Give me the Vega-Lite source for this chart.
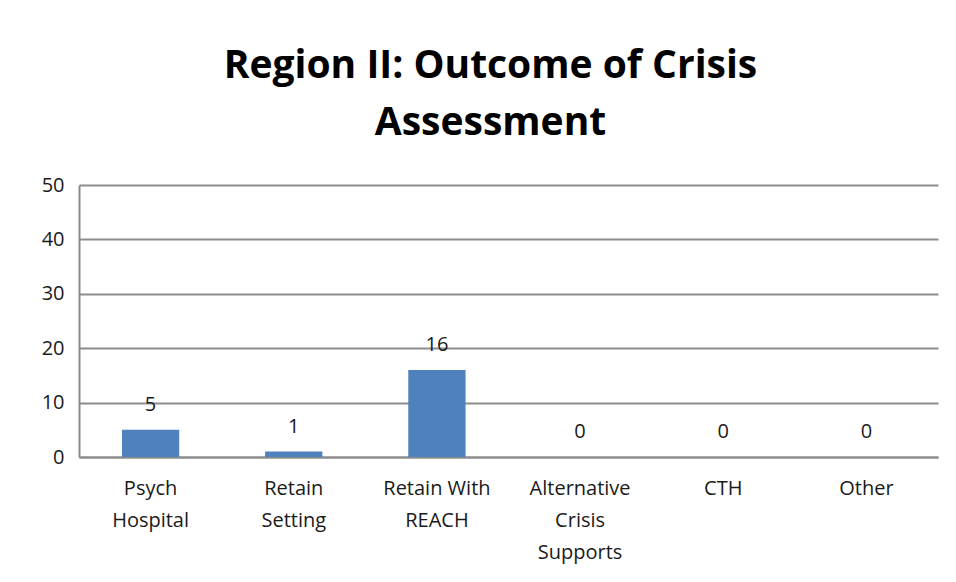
{
  "$schema": "https://vega.github.io/schema/vega-lite/v6.json",
  "width": 859,
  "height": 272,
  "autosize": "none",
  "padding": {"left": 79, "top": 185, "right": 18, "bottom": 125},
  "background": "white",
  "title": {
    "text": ["Region II: Outcome of Crisis", "Assessment"],
    "font": "Open Sans",
    "fontSize": 39,
    "fontWeight": "bold",
    "color": "#000000",
    "lineHeight": 57,
    "anchor": "middle",
    "dx": -18,
    "offset": 32
  },
  "config": {
    "view": {"stroke": null},
    "font": "Open Sans"
  },
  "data": {
    "values": [
      {"category": "Psych|Hospital", "count": 5},
      {"category": "Retain|Setting", "count": 1},
      {"category": "Retain With|REACH", "count": 16},
      {"category": "Alternative|Crisis|Supports", "count": 0},
      {"category": "CTH", "count": 0},
      {"category": "Other", "count": 0}
    ]
  },
  "encoding": {
    "x": {
      "field": "category",
      "type": "nominal",
      "sort": null,
      "scale": {"paddingInner": 0.6, "paddingOuter": 0.3},
      "axis": {
        "title": null,
        "labelAngle": 0,
        "labelExpr": "split(datum.value, '|')",
        "labelFont": "Open Sans",
        "labelFontSize": 20,
        "labelColor": "#1a1a1a",
        "labelLineHeight": 32,
        "labelBaseline": "top",
        "labelPadding": 21,
        "ticks": false,
        "domainColor": "#8c8c8c",
        "domainWidth": 2,
        "grid": false
      }
    },
    "y": {
      "field": "count",
      "type": "quantitative",
      "scale": {"domain": [0, 50], "nice": false},
      "axis": {
        "title": null,
        "values": [0, 10, 20, 30, 40, 50],
        "labelFont": "Open Sans",
        "labelFontSize": 20,
        "labelColor": "#1a1a1a",
        "labelPadding": 15,
        "ticks": false,
        "domainColor": "#8c8c8c",
        "domainWidth": 2,
        "gridColor": "#8c8c8c",
        "gridWidth": 2,
        "gridOpacity": 1
      }
    }
  },
  "layer": [
    {"mark": {"type": "bar", "color": "#4F81BD"}},
    {
      "mark": {
        "type": "text",
        "dy": -19,
        "baseline": "alphabetic",
        "fontSize": 20,
        "font": "Open Sans",
        "color": "#1a1a1a"
      },
      "encoding": {"text": {"field": "count", "type": "quantitative"}}
    }
  ]
}
